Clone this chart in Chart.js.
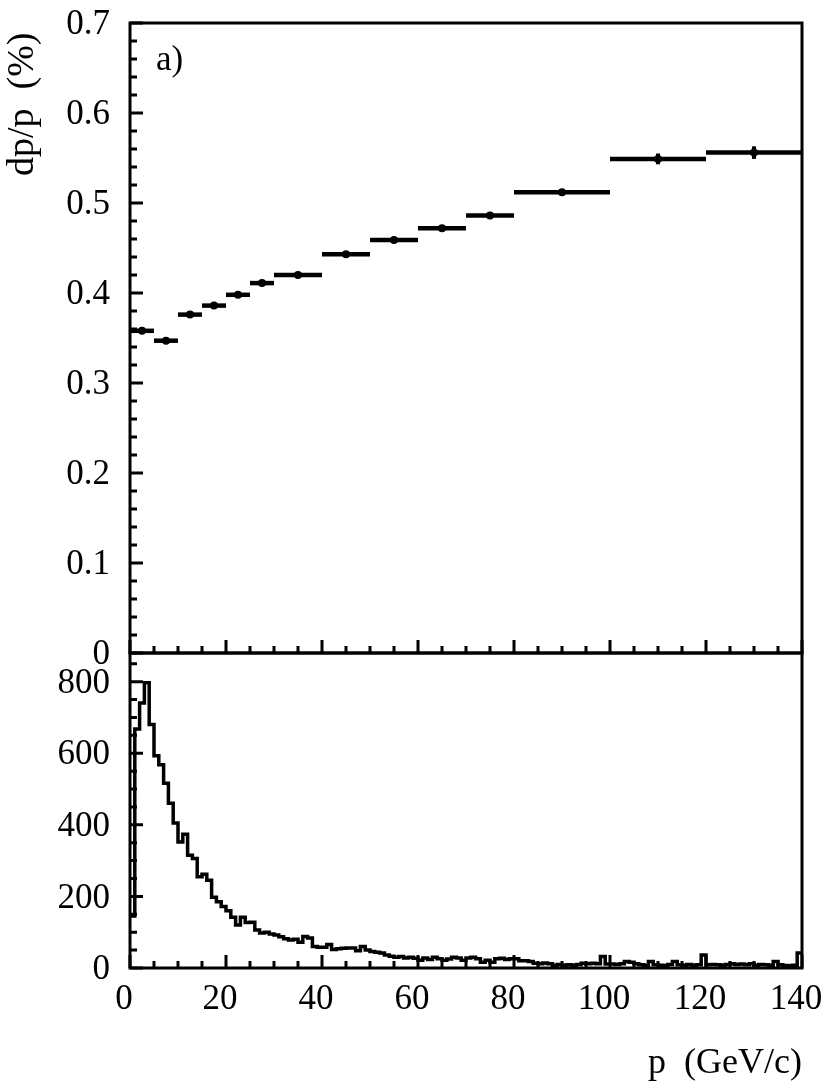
<!DOCTYPE html>
<html>
<head>
<meta charset="utf-8">
<script src="https://cdn.jsdelivr.net/npm/chart.js@4.4.0/dist/chart.umd.min.js"></script>
<style>
    html, body { margin: 0; padding: 0; background: #fff; }
    #wrap { position: relative; width: 831px; height: 1082px; background: #fff; }
    canvas { position: absolute; left: 0; }
    #topChart { top: 0; }
    #bottomChart { top: 620px; }
</style>
</head>
<body>
<div id="wrap">
    <canvas id="topChart" width="831" height="700"></canvas>
    <canvas id="bottomChart" width="831" height="462"></canvas>
</div>
<script>
// Resolution vs momentum (top panel), momentum bins in GeV/c
const binLo = [0, 5, 10, 15, 20, 25, 30, 40, 50, 60, 70, 80, 100, 120];
const binHi = [5, 10, 15, 20, 25, 30, 40, 50, 60, 70, 80, 100, 120, 140];
const resolution = [0.358, 0.347, 0.376, 0.386, 0.398, 0.411, 0.420, 0.443, 0.459, 0.472, 0.486, 0.512, 0.549, 0.556];
const resolutionErr = [0.002, 0.002, 0.002, 0.002, 0.002, 0.002, 0.002, 0.002, 0.002, 0.002, 0.002, 0.002, 0.006, 0.007];

// Momentum spectrum (bottom panel), 1 GeV/c bins starting at 0
const histStart = 0;
const histBinWidth = 1;
const histCounts = [
    145, 668, 740, 797, 680, 593, 568, 516, 460, 405,
    352, 374, 315, 306, 255, 262, 245, 198, 185, 172,
    160, 142, 120, 142, 127, 128, 106, 98, 100, 95,
    92, 87, 82, 78, 80, 72, 88, 84, 60, 58,
    58, 66, 52, 54, 55, 56, 56, 48, 60, 50,
    46, 44, 42, 36, 33, 30, 32, 28, 30, 27,
    22, 28, 24, 30, 26, 22, 25, 30, 28, 22,
    28, 30, 26, 16, 22, 16, 26, 27, 24, 26,
    26, 20, 20, 18, 13, 12, 14, 12, 8, 10,
    8, 9, 8, 10, 13, 12, 13, 12, 32, 11,
    11, 10, 12, 18, 16, 12, 9, 8, 18, 9,
    8, 7, 10, 18, 9, 8, 10, 8, 9, 36,
    9, 10, 9, 8, 10, 12, 10, 11, 9, 12,
    8, 10, 9, 8, 18, 9, 7, 6, 8, 42
];

// tick labels
const xTicks = [0, 20, 40, 60, 80, 100, 120, 140];
const yTopTicks = [0, 0.1, 0.2, 0.3, 0.4, 0.5, 0.6, 0.7];
const yBottomTicks = [0, 200, 400, 600, 800];

const panelLabel = 'a)';

const serif = '"Liberation Serif", "Times New Roman", serif';
Chart.defaults.font.family = serif;
Chart.defaults.color = '#000';

function tickValues(max, step) {
    const out = [];
    for (let i = 0; i * step <= max + 1e-9; i++) out.push(i * step);
    return out;
}

function isMajor(v, major) {
    return Math.abs(v / major - Math.round(v / major)) < 1e-6;
}

// fixed axis box size, no extra label padding so both panels line up
function fixBox(size) {
    return s => {
        if (s.isHorizontal()) s.height = size; else s.width = size;
        s.paddingTop = 0;
        s.paddingBottom = 0;
        s.paddingLeft = 0;
        s.paddingRight = 0;
    };
}

// frame + inward ROOT-style ticks
const frameTicks = {
    id: 'frameTicks',
    afterDraw(chart, args, opts) {
        const { ctx, chartArea: a } = chart;
        const xs = chart.scales.x;
        const ys = chart.scales.y;
        ctx.save();
        ctx.strokeStyle = '#000';
        ctx.lineWidth = 3;
        ctx.beginPath();
        tickValues(ys.max, opts.yMinor).forEach(v => {
            const py = ys.getPixelForValue(v);
            ctx.moveTo(a.left, py);
            ctx.lineTo(a.left + (isMajor(v, opts.yMajor) ? 13 : 7), py);
        });
        tickValues(xs.max, opts.xMinor).forEach(v => {
            const px = xs.getPixelForValue(v);
            ctx.moveTo(px, a.bottom);
            ctx.lineTo(px, a.bottom - (isMajor(v, opts.xMajor) ? 13 : 7));
        });
        ctx.stroke();
        ctx.strokeRect(a.left, a.top, a.right - a.left, a.bottom - a.top);
        ctx.restore();
    }
};

// horizontal bin width bars and vertical errors
const binBars = {
    id: 'binBars',
    beforeDatasetsDraw(chart) {
        const { ctx } = chart;
        const xs = chart.scales.x;
        const ys = chart.scales.y;
        ctx.save();
        ctx.strokeStyle = '#000';
        resolution.forEach((v, i) => {
            const py = ys.getPixelForValue(v);
            const px = xs.getPixelForValue((binLo[i] + binHi[i]) / 2);
            ctx.lineWidth = 4.5;
            ctx.beginPath();
            ctx.moveTo(xs.getPixelForValue(binLo[i]), py);
            ctx.lineTo(xs.getPixelForValue(binHi[i]), py);
            ctx.stroke();
            ctx.lineWidth = 4;
            ctx.beginPath();
            ctx.moveTo(px, ys.getPixelForValue(v - resolutionErr[i]));
            ctx.lineTo(px, ys.getPixelForValue(v + resolutionErr[i]));
            ctx.stroke();
        });
        ctx.restore();
    }
};

const panelText = {
    id: 'panelText',
    afterDraw(chart) {
        const { ctx, chartArea: a } = chart;
        ctx.save();
        ctx.font = '35px ' + serif;
        ctx.fillStyle = '#000';
        ctx.textBaseline = 'alphabetic';
        ctx.fillText(panelLabel, a.left + 26, a.top + 47);
        ctx.restore();
    }
};

const noGrid = { display: false, drawTicks: false };
const noBorder = { display: false };

// Top panel: dp/p vs p
new Chart(document.getElementById('topChart'), {
    type: 'scatter',
    data: {
        datasets: [{
            data: resolution.map((v, i) => ({ x: (binLo[i] + binHi[i]) / 2, y: v })),
            pointRadius: 4,
            pointBackgroundColor: '#000',
            pointBorderColor: '#000',
            pointBorderWidth: 0
        }]
    },
    options: {
        responsive: false,
        animation: false,
        layout: { padding: { top: 23, right: 29, bottom: 47, left: 0 } },
        plugins: {
            legend: { display: false },
            tooltip: { enabled: false },
            frameTicks: { yMinor: 0.02, yMajor: 0.1, xMinor: 5, xMajor: 20 }
        },
        scales: {
            x: { type: 'linear', display: false, min: 0, max: 140 },
            y: {
                min: 0,
                max: 0.7,
                afterFit: fixBox(130),
                afterBuildTicks: s => { s.ticks = yTopTicks.map(v => ({ value: v })); },
                grid: noGrid,
                border: noBorder,
                ticks: {
                    padding: 20,
                    labelOffset: 2,
                    font: { size: 35 },
                    callback: v => v === 0 ? '0' : v.toFixed(1)
                },
                title: {
                    display: true,
                    text: 'dp/p  (%) ',
                    align: 'end',
                    padding: 0,
                    font: { size: 38 }
                }
            }
        }
    },
    plugins: [binBars, frameTicks, panelText]
});

// Bottom panel: momentum spectrum
const histPoints = histCounts.map((c, i) => ({ x: histStart + i * histBinWidth, y: c }));
histPoints.push({ x: histStart + histCounts.length * histBinWidth, y: histCounts[histCounts.length - 1] });

new Chart(document.getElementById('bottomChart'), {
    type: 'line',
    data: {
        datasets: [{
            data: histPoints,
            stepped: true,
            borderColor: '#000',
            borderWidth: 3.5,
            pointRadius: 0,
            fill: false
        }]
    },
    options: {
        responsive: false,
        animation: false,
        layout: { padding: { top: 33, right: 29, bottom: 0, left: 0 } },
        plugins: {
            legend: { display: false },
            tooltip: { enabled: false },
            frameTicks: { yMinor: 50, yMajor: 200, xMinor: 5, xMajor: 20 }
        },
        scales: {
            x: {
                type: 'linear',
                min: 0,
                max: 140,
                afterFit: fixBox(114),
                afterBuildTicks: s => { s.ticks = xTicks.map(v => ({ value: v })); },
                grid: noGrid,
                border: noBorder,
                ticks: { padding: 11, labelOffset: -6, maxRotation: 0, autoSkip: false, font: { size: 35 } },
                title: {
                    display: true,
                    text: 'p  (GeV/c)',
                    align: 'end',
                    padding: 0,
                    font: { size: 36, lineHeight: 1 }
                }
            },
            y: {
                min: 0,
                max: 880,
                afterFit: fixBox(130),
                afterBuildTicks: s => { s.ticks = yBottomTicks.map(v => ({ value: v })); },
                grid: noGrid,
                border: noBorder,
                ticks: { padding: 20, labelOffset: 2, font: { size: 35 } }
            }
        }
    },
    plugins: [frameTicks]
});
</script>
</body>
</html>
